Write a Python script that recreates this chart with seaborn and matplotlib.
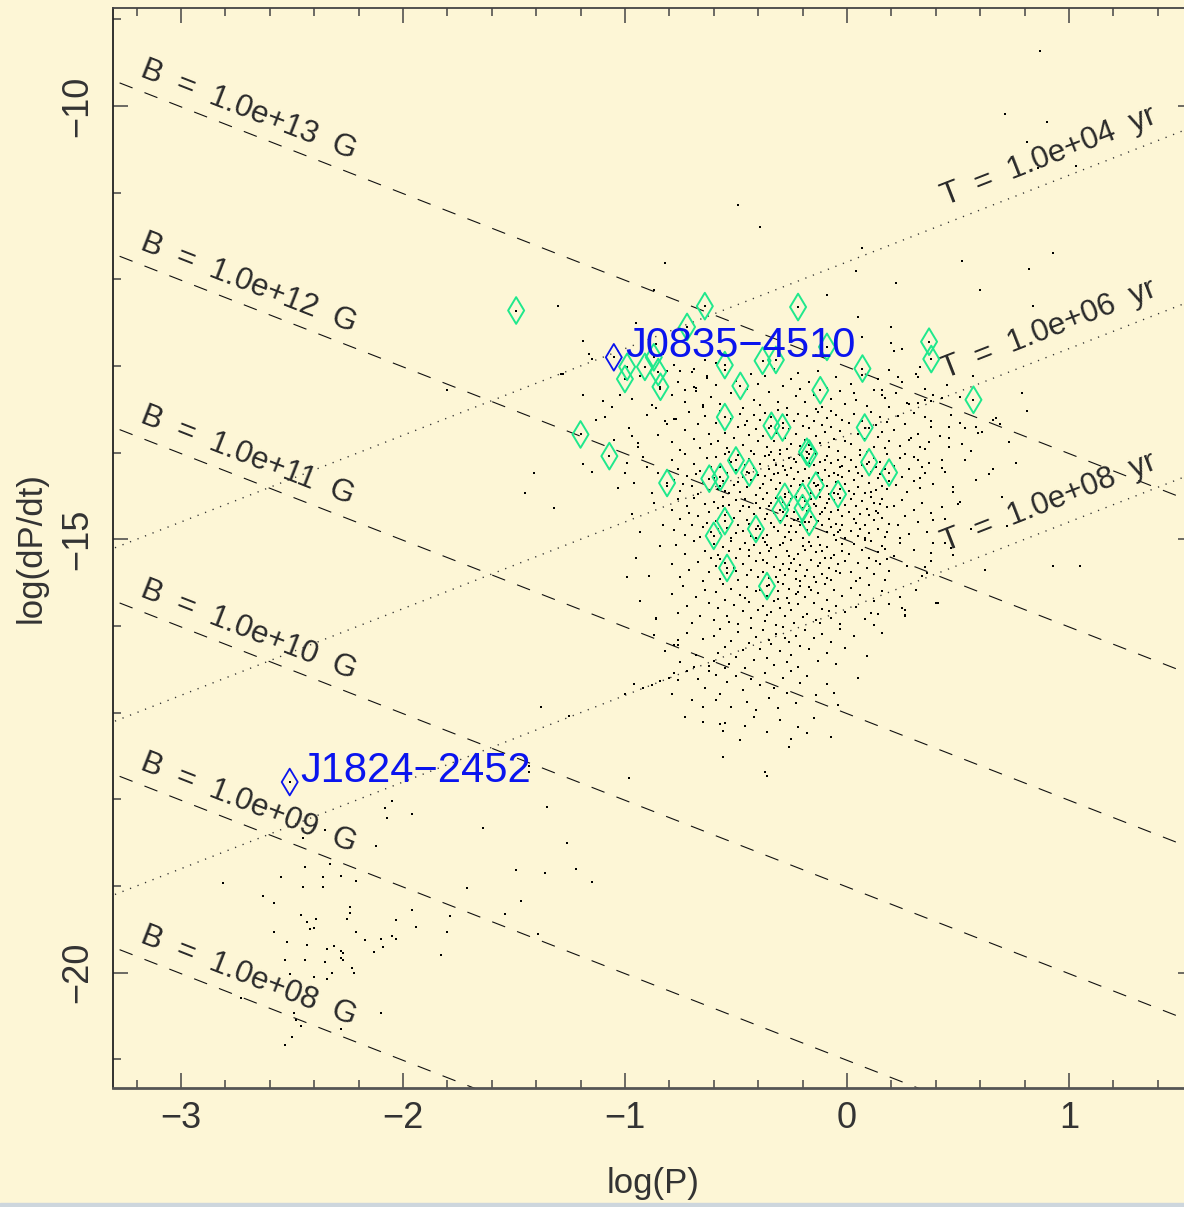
import numpy as np
import pandas as pd
import matplotlib
matplotlib.use("Agg")
import matplotlib.pyplot as plt
from matplotlib.patches import Rectangle
from matplotlib.path import Path
from matplotlib.markers import MarkerStyle
import seaborn as sns

# ---------------- data (log10 P [s], log10 Pdot) ----------------
# millisecond / recycled pulsars (lower left)
msp_pts = [(-2.08,-18.10),(-2.05,-18.02),(-2.07,-18.21),(-1.96,-18.17),(-2.12,-18.54),(-1.64,-18.33),
           (-1.35,-18.09),(-1.26,-18.50),(-1.22,-18.80),(-1.36,-18.85),(-1.49,-18.82),(-1.15,-18.95),
           (-1.47,-19.17),(-1.54,-19.32),(-1.39,-19.55),(-1.71,-19.02),(-1.79,-19.35),(-1.80,-19.53),
           (-1.83,-19.80),(-1.94,-19.47),(-1.96,-19.28),(-2.03,-19.39),(-2.03,-19.61),(-2.05,-19.58),
           (-2.10,-19.61),(-2.09,-19.70),(-2.13,-19.76),(-2.17,-19.62),(-2.21,-19.53),(-2.25,-19.38),
           (-2.24,-19.24),(-2.24,-19.31),(-2.28,-18.88),(-2.21,-18.94),(-2.33,-18.75),(-2.36,-18.90),
           (-2.36,-19.01),(-2.44,-18.78),(-2.45,-19.01),(-2.55,-18.90),(-2.81,-18.97),(-2.63,-19.11),
           (-2.58,-19.19),(-2.46,-19.33),(-2.43,-19.41),(-2.39,-19.38),(-2.40,-19.48),(-2.42,-19.49),
           (-2.58,-19.53),(-2.52,-19.65),(-2.43,-19.68),(-2.34,-19.73),(-2.31,-19.69),(-2.28,-19.75),
           (-2.27,-19.77),(-2.28,-19.83),(-2.27,-19.85),(-2.35,-19.88),(-2.44,-19.85),(-2.53,-19.85),
           (-2.51,-20.02),(-2.40,-20.05),(-2.32,-20.00),(-2.34,-20.07),(-2.23,-19.95),(-2.22,-20.00),
           (-2.49,-20.46),(-2.48,-20.54),(-2.46,-20.62),(-2.50,-20.74),(-2.53,-20.83),(-2.28,-20.65),
           (-2.10,-20.47),(-2.73,-20.29),(-2.35,-18.35),(-2.45,-18.45),(-1.43,-17.69),(-1.43,-17.62),
           (-1.25,-17.04),(-1.38,-16.94),(-0.98,-17.75),(-0.36,-17.73),(-0.37,-17.69)]

# sparse field pulsars around the main island
field_pts = [(0.87,-9.37),(0.71,-10.09),(0.90,-10.18),(0.81,-10.42),(0.86,-10.72),(1.03,-10.69),
             (0.52,-11.79),(0.82,-11.88),(0.93,-11.70),(0.60,-12.12),(-0.49,-11.14),(-0.39,-11.40),
             (-0.82,-11.81),(0.04,-11.91),(0.22,-12.04),(0.07,-11.64),(0.84,-12.31),(0.20,-12.55),
             (0.20,-12.73),(0.25,-12.80),(0.21,-12.83),(0.07,-12.66),(0.33,-13.01),(0.32,-13.13),
             (0.23,-13.13),(0.16,-13.28),(0.16,-13.33),(0.19,-13.47),(0.27,-13.43),(0.32,-13.43),
             (0.35,-13.39),(0.43,-13.37),(0.39,-13.33),(0.51,-13.66),(0.53,-13.71),(0.46,-13.70),
             (0.38,-13.70),(0.35,-13.59),(0.59,-13.77),(0.61,-13.76),(0.67,-13.60),(0.69,-13.67),
             (0.79,-13.31),(0.81,-13.52),(0.56,-13.98),(0.46,-13.83),(0.46,-13.93),(0.43,-14.08),
             (0.44,-14.22),(0.66,-14.19),(0.70,-14.51),(0.51,-14.57),(0.43,-14.63),(0.33,-14.29),
             (0.34,-14.16),(0.30,-14.05),(0.33,-13.94),(0.37,-13.88),(0.29,-13.83),(0.48,-14.45),
             (0.39,-14.78),(0.39,-15.04),(0.38,-15.16),(0.44,-15.04),(0.48,-15.18),(0.62,-15.35),
             (0.93,-15.31),(0.41,-15.73),(0.25,-15.79),(0.26,-15.87),(0.12,-15.99),(0.11,-15.85),
             (0.35,-15.32),(0.36,-15.39),(1.05,-15.31),(0.72,-14.85),
             (-1.19,-12.71),(-1.16,-12.86),(-1.15,-12.92),(-1.29,-13.09),(-1.19,-13.34),(-1.10,-13.40),
             (-1.02,-13.34),(-1.06,-13.47),(-1.09,-13.59),(-0.97,-13.81),(-0.94,-13.89),(-1.00,-14.23),
             (-0.90,-14.16),(-1.19,-14.13),(-0.81,-13.67),(-0.78,-13.61),(-0.73,-13.28),(-0.69,-13.24),
             (-0.68,-13.25),(-0.65,-13.45),(-0.86,-13.49),(-0.63,-13.11),(-0.59,-12.96),(-0.64,-12.93),
             (-0.69,-13.03),(-0.78,-12.99),(-0.75,-13.06),(-0.83,-12.86),(-0.86,-12.75),(-0.95,-12.50),
             (-0.87,-12.12),(-0.09,-12.18),(0.05,-12.43),(0.03,-13.31),(-1.30,-12.31),(-1.80,-13.28),
             (-1.41,-14.23),(-1.45,-14.46),(-1.32,-14.64),(-1.28,-13.09),
             (-0.99,-15.43),(-0.86,-15.91),(-0.87,-16.10),(-0.76,-16.16),(-0.76,-16.22),(-0.82,-16.29),
             (-0.96,-16.67),(-1.00,-16.79),(-0.92,-16.71),(-0.88,-16.68),(-0.84,-16.64),(-0.80,-16.60),
             (-0.78,-16.54),(-0.72,-16.52),(-0.69,-16.47),(-0.62,-16.52),(-0.60,-16.40),(-0.79,-16.79),
             (-0.67,-16.61),(-0.73,-17.05),(-0.65,-16.94),(-0.65,-17.11),(-0.59,-16.85),(-0.57,-17.13),
             (-0.56,-17.21),(-0.56,-17.51),(-0.46,-17.15),(-0.25,-17.30),(-0.22,-17.17),(-0.18,-17.23),
             (-0.06,-16.77),(0.05,-16.60),(0.26,-15.82),(0.26,-15.88),(0.40,-15.73)]

# main island, by logPdot band
core_a = [(-0.97,-13.38),(-0.93,-13.12),(-0.88,-13.45),(-0.84,-13.27),(-0.81,-13.06),(-0.79,-13.33),(-0.76,-13.18),
          (-0.73,-13.41),(-0.70,-13.07),(-0.68,-13.29),(-0.65,-13.47),(-0.63,-13.14),(-0.61,-13.36),(-0.59,-13.22),
          (-0.57,-13.44),(-0.55,-13.05),(-0.52,-13.31),(-0.50,-13.17),(-0.47,-13.48),(-0.45,-13.26),(-0.43,-13.09),
          (-0.42,-13.39),(-0.40,-13.21),(-0.39,-13.45),(-0.37,-13.12),(-0.35,-13.30),(-0.33,-13.04),(-0.31,-13.41),
          (-0.29,-13.23),(-0.27,-13.49),(-0.25,-13.15),(-0.23,-13.35),(-0.22,-13.08),(-0.21,-13.27),(-0.19,-13.42),
          (-0.17,-13.19),(-0.15,-13.33),(-0.13,-13.06),(-0.11,-13.47),(-0.09,-13.25),(-0.07,-13.38),(-0.05,-13.13),
          (-0.03,-13.29),(-0.01,-13.44),(0.02,-13.21),(0.04,-13.39),(0.07,-13.10),(0.09,-13.46),(0.12,-13.28),
          (0.14,-13.15),(0.17,-13.37),(0.19,-13.05),(0.22,-13.31),(0.25,-13.18),(0.28,-13.44),(0.31,-13.09),
          (0.35,-13.27),(0.38,-13.40),(0.45,-13.22),(0.51,-13.36),(0.57,-13.12)]
core_b = [(-1.13,-13.62),(-1.05,-13.85),(-0.98,-13.71),(-0.94,-13.93),(-0.90,-13.56),(-0.85,-13.80),(-0.82,-13.64),
          (-0.79,-13.88),(-0.77,-13.61),(-0.75,-13.97),(-0.73,-13.74),(-0.71,-13.53),(-0.69,-13.84),(-0.67,-13.67),
          (-0.66,-13.95),(-0.64,-13.58),(-0.62,-13.79),(-0.61,-13.90),(-0.59,-13.66),(-0.58,-13.86),(-0.57,-13.52),
          (-0.55,-13.77),(-0.54,-13.95),(-0.52,-13.61),(-0.51,-13.83),(-0.49,-13.70),(-0.48,-13.55),(-0.47,-13.91),
          (-0.45,-13.64),(-0.44,-13.80),(-0.43,-13.98),(-0.42,-13.57),(-0.41,-13.73),(-0.40,-13.87),(-0.46,-13.68),
          (-0.53,-13.99),(-0.39,-13.62),(-0.38,-13.81),(-0.37,-13.54),(-0.36,-13.94),(-0.35,-13.71),(-0.34,-13.59),
          (-0.33,-13.86),(-0.32,-13.77),(-0.31,-13.51),(-0.30,-13.97),(-0.29,-13.66),(-0.28,-13.83),(-0.27,-13.57),
          (-0.26,-13.73),(-0.25,-13.90),(-0.24,-13.63),(-0.23,-13.79),(-0.22,-13.55),(-0.21,-13.92),(-0.20,-13.69),
          (-0.34,-13.99),(-0.27,-13.96),(-0.19,-13.85),(-0.18,-13.58),(-0.17,-13.72),(-0.16,-13.96),(-0.15,-13.64),
          (-0.14,-13.81),(-0.13,-13.53),(-0.12,-13.89),(-0.11,-13.68),(-0.10,-13.76),(-0.09,-13.60),(-0.08,-13.93),
          (-0.07,-13.70),(-0.06,-13.84),(-0.05,-13.56),(-0.04,-13.98),(-0.03,-13.75),(-0.02,-13.62),(-0.01,-13.87),
          (-0.14,-13.50),(-0.07,-13.52),(-0.17,-13.91),(0.01,-13.66),(0.02,-13.90),(0.03,-13.55),(0.05,-13.78),
          (0.06,-13.97),(0.07,-13.63),(0.08,-13.84),(0.10,-13.71),(0.11,-13.53),(0.12,-13.93),(0.13,-13.68),
          (0.14,-13.82),(0.15,-13.59),(0.16,-13.76),(0.17,-13.95),(0.18,-13.65),(0.19,-13.86),(0.09,-13.99),
          (0.21,-13.74),(0.23,-13.58),(0.24,-13.92),(0.26,-13.67),(0.28,-13.85),(0.30,-13.54),(0.32,-13.78),
          (0.35,-13.96),(0.38,-13.63),(0.42,-13.81),(0.47,-13.57),(0.52,-13.90),(0.58,-13.70),(0.66,-13.62),
          (0.73,-13.88)]
core_c = [(-1.15,-14.22),(-1.03,-14.41),(-0.99,-14.12),(-0.96,-14.35),(-0.92,-14.05),(-0.88,-14.46),(-0.85,-14.24),
          (-0.81,-14.38),(-0.79,-14.08),(-0.78,-14.31),(-0.76,-14.19),(-0.75,-14.44),(-0.73,-14.02),(-0.72,-14.27),
          (-0.70,-14.39),(-0.69,-14.13),(-0.67,-14.48),(-0.66,-14.21),(-0.65,-14.34),(-0.63,-14.06),(-0.62,-14.43),
          (-0.61,-14.17),(-0.74,-14.36),(-0.68,-14.25),(-0.60,-14.29),(-0.59,-14.05),(-0.58,-14.42),(-0.57,-14.16),
          (-0.56,-14.33),(-0.55,-14.01),(-0.54,-14.24),(-0.53,-14.47),(-0.52,-14.11),(-0.51,-14.37),(-0.50,-14.20),
          (-0.49,-14.03),(-0.48,-14.45),(-0.47,-14.28),(-0.46,-14.14),(-0.45,-14.40),(-0.44,-14.07),(-0.43,-14.32),
          (-0.42,-14.18),(-0.41,-14.49),(-0.40,-14.26),(-0.57,-14.38),(-0.53,-14.08),(-0.49,-14.34),(-0.45,-14.22),
          (-0.55,-14.44),(-0.42,-14.02),(-0.39,-14.13),(-0.38,-14.36),(-0.37,-14.04),(-0.37,-14.27),(-0.36,-14.46),
          (-0.35,-14.19),(-0.34,-14.31),(-0.33,-14.09),(-0.32,-14.42),(-0.31,-14.23),(-0.30,-14.01),(-0.30,-14.35),
          (-0.29,-14.15),(-0.28,-14.48),(-0.27,-14.26),(-0.26,-14.06),(-0.25,-14.39),(-0.25,-14.18),(-0.24,-14.30),
          (-0.23,-14.11),(-0.22,-14.44),(-0.22,-14.22),(-0.21,-14.03),(-0.20,-14.33),(-0.39,-14.41),(-0.35,-14.03),
          (-0.33,-14.25),(-0.28,-14.20),(-0.26,-14.45),(-0.24,-14.07),(-0.21,-14.37),(-0.32,-14.14),(-0.19,-14.19),
          (-0.19,-14.41),(-0.18,-14.06),(-0.17,-14.29),(-0.16,-14.47),(-0.15,-14.14),(-0.15,-14.35),(-0.14,-14.02),
          (-0.13,-14.24),(-0.12,-14.43),(-0.12,-14.11),(-0.11,-14.31),(-0.10,-14.20),(-0.09,-14.04),(-0.09,-14.39),
          (-0.08,-14.27),(-0.07,-14.12),(-0.06,-14.46),(-0.06,-14.23),(-0.05,-14.34),(-0.04,-14.08),(-0.03,-14.17),
          (-0.03,-14.42),(-0.02,-14.28),(-0.01,-14.05),(-0.01,-14.36),(-0.17,-14.12),(-0.13,-14.37),(-0.08,-14.48),
          (-0.04,-14.26),(-0.10,-14.09),(-0.02,-14.15),(0.01,-14.21),(0.01,-14.44),(0.02,-14.09),(0.03,-14.32),
          (0.04,-14.16),(0.05,-14.40),(0.06,-14.03),(0.07,-14.27),(0.08,-14.47),(0.09,-14.13),(0.10,-14.35),
          (0.11,-14.22),(0.12,-14.06),(0.13,-14.43),(0.14,-14.29),(0.15,-14.11),(0.16,-14.38),(0.17,-14.19),
          (0.18,-14.02),(0.19,-14.33),(0.03,-14.48),(0.07,-14.14),(0.11,-14.45),(0.15,-14.25),(0.18,-14.42),
          (0.05,-14.24),(0.13,-14.17),(0.21,-14.15),(0.22,-14.37),(0.24,-14.06),(0.25,-14.28),(0.27,-14.45),
          (0.28,-14.19),(0.30,-14.33),(0.32,-14.08),(0.33,-14.41),(0.35,-14.24),(0.37,-14.12),(0.39,-14.36),
          (0.26,-14.02),(0.43,-14.18),(0.48,-14.40),(0.53,-14.09),(0.58,-14.31),(0.64,-14.25),(0.76,-14.12)]
core_d = [(-0.97,-14.71),(-0.93,-14.92),(-0.87,-14.58),(-0.83,-14.83),(-0.79,-14.66),(-0.78,-14.89),(-0.76,-14.54),
          (-0.75,-14.77),(-0.73,-14.95),(-0.72,-14.62),(-0.70,-14.84),(-0.69,-14.52),(-0.67,-14.73),(-0.66,-14.97),
          (-0.64,-14.59),(-0.63,-14.81),(-0.62,-14.68),(-0.61,-14.91),(-0.71,-14.70),(-0.65,-14.86),(-0.60,-14.57),
          (-0.59,-14.79),(-0.58,-14.64),(-0.57,-14.93),(-0.56,-14.51),(-0.55,-14.72),(-0.54,-14.87),(-0.53,-14.60),
          (-0.52,-14.98),(-0.51,-14.75),(-0.50,-14.55),(-0.49,-14.83),(-0.48,-14.67),(-0.47,-14.90),(-0.46,-14.53),
          (-0.45,-14.78),(-0.44,-14.63),(-0.43,-14.96),(-0.42,-14.71),(-0.41,-14.58),(-0.40,-14.85),(-0.58,-14.88),
          (-0.54,-14.69),(-0.50,-14.93),(-0.47,-14.61),(-0.44,-14.82),(-0.41,-14.99),(-0.56,-14.62),(-0.39,-14.64),
          (-0.39,-14.88),(-0.38,-14.53),(-0.37,-14.76),(-0.36,-14.95),(-0.35,-14.61),(-0.34,-14.81),(-0.33,-14.70),
          (-0.32,-14.52),(-0.31,-14.90),(-0.30,-14.66),(-0.30,-14.79),(-0.29,-14.57),(-0.28,-14.97),(-0.27,-14.73),
          (-0.26,-14.60),(-0.25,-14.85),(-0.25,-14.54),(-0.24,-14.69),(-0.23,-14.92),(-0.22,-14.77),(-0.22,-14.58),
          (-0.21,-14.83),(-0.20,-14.65),(-0.20,-14.99),(-0.36,-14.71),(-0.33,-14.86),(-0.31,-14.55),(-0.28,-14.83),
          (-0.26,-14.91),(-0.23,-14.51),(-0.38,-14.98),(-0.34,-14.58),(-0.29,-14.69),(-0.24,-14.78),(-0.19,-14.56),
          (-0.19,-14.80),(-0.18,-14.67),(-0.17,-14.94),(-0.16,-14.53),(-0.16,-14.74),(-0.15,-14.86),(-0.14,-14.62),
          (-0.13,-14.97),(-0.12,-14.71),(-0.12,-14.51),(-0.11,-14.84),(-0.10,-14.64),(-0.09,-14.91),(-0.09,-14.58),
          (-0.08,-14.77),(-0.07,-14.68),(-0.06,-14.95),(-0.06,-14.55),(-0.05,-14.82),(-0.04,-14.66),(-0.03,-14.89),
          (-0.03,-14.52),(-0.02,-14.73),(-0.01,-14.60),(-0.01,-14.98),(-0.18,-14.89),(-0.15,-14.59),(-0.11,-14.69),
          (-0.08,-14.53),(-0.04,-14.92),(-0.13,-14.79),(-0.07,-14.86),(-0.02,-14.83),(-0.17,-14.61),(0.01,-14.69),
          (0.02,-14.54),(0.02,-14.90),(0.03,-14.77),(0.04,-14.62),(0.05,-14.96),(0.06,-14.71),(0.07,-14.56),
          (0.08,-14.84),(0.09,-14.65),(0.10,-14.93),(0.11,-14.51),(0.12,-14.78),(0.13,-14.67),(0.14,-14.88),
          (0.15,-14.59),(0.16,-14.75),(0.17,-14.97),(0.18,-14.63),(0.19,-14.82),(0.04,-14.81),(0.08,-14.99),
          (0.12,-14.58),(0.16,-14.53),(0.06,-14.88),(0.10,-14.72),(0.14,-14.70),(0.18,-14.91),(0.21,-14.61),
          (0.23,-14.84),(0.25,-14.55),(0.26,-14.73),(0.28,-14.94),(0.30,-14.66),(0.32,-14.80),(0.34,-14.58),
          (0.36,-14.91),(0.38,-14.70),(0.24,-14.98),(0.44,-14.76),(0.50,-14.59),(0.56,-14.88)]
core_e = [(-0.95,-15.21),(-0.89,-15.42),(-0.84,-15.08),(-0.79,-15.29),(-0.77,-15.06),(-0.75,-15.44),(-0.73,-15.17),
          (-0.71,-15.35),(-0.69,-15.02),(-0.67,-15.26),(-0.65,-15.48),(-0.64,-15.13),(-0.62,-15.38),(-0.61,-15.21),
          (-0.60,-15.05),(-0.59,-15.31),(-0.58,-15.18),(-0.57,-15.46),(-0.56,-15.09),(-0.55,-15.27),(-0.54,-15.39),
          (-0.53,-15.14),(-0.52,-15.02),(-0.51,-15.33),(-0.50,-15.22),(-0.49,-15.47),(-0.48,-15.11),(-0.47,-15.29),
          (-0.46,-15.04),(-0.45,-15.41),(-0.44,-15.19),(-0.43,-15.35),(-0.42,-15.07),(-0.41,-15.25),(-0.40,-15.44),
          (-0.57,-15.23),(-0.50,-15.37),(-0.44,-15.12),(-0.39,-15.16),(-0.38,-15.38),(-0.37,-15.03),(-0.36,-15.27),
          (-0.35,-15.45),(-0.34,-15.10),(-0.33,-15.32),(-0.32,-15.20),(-0.31,-15.49),(-0.30,-15.06),(-0.29,-15.28),
          (-0.28,-15.41),(-0.27,-15.13),(-0.26,-15.34),(-0.25,-15.01),(-0.24,-15.23),(-0.23,-15.46),(-0.22,-15.17),
          (-0.21,-15.30),(-0.20,-15.08),(-0.38,-15.24),(-0.35,-15.13),(-0.32,-15.43),(-0.29,-15.04),(-0.26,-15.19),
          (-0.23,-15.36),(-0.21,-15.48),(-0.36,-15.07),(-0.30,-15.35),(-0.25,-15.27),(-0.19,-15.12),(-0.18,-15.35),
          (-0.17,-15.03),(-0.16,-15.24),(-0.15,-15.44),(-0.14,-15.15),(-0.13,-15.31),(-0.12,-15.06),(-0.11,-15.40),
          (-0.10,-15.21),(-0.09,-15.09),(-0.08,-15.33),(-0.07,-15.47),(-0.06,-15.18),(-0.05,-15.01),(-0.04,-15.28),
          (-0.03,-15.39),(-0.02,-15.13),(-0.01,-15.25),(-0.19,-15.42),(-0.16,-15.08),(-0.12,-15.27),(-0.09,-15.45),
          (-0.05,-15.36),(-0.02,-15.05),(-0.14,-15.49),(-0.07,-15.22),(-0.11,-15.14),(0.01,-15.17),(0.02,-15.38),
          (0.03,-15.05),(0.05,-15.27),(0.06,-15.45),(0.07,-15.12),(0.09,-15.33),(0.10,-15.21),(0.11,-15.02),
          (0.12,-15.40),(0.14,-15.15),(0.15,-15.29),(0.16,-15.08),(0.17,-15.47),(0.18,-15.23),(0.19,-15.36),
          (0.04,-15.48),(0.08,-15.01),(0.13,-15.25),(0.17,-15.11),(0.21,-15.19),(0.24,-15.04),(0.27,-15.31),
          (0.30,-15.12),(0.34,-15.42),(0.38,-15.25),(0.47,-15.10)]
core_f = [(-0.93,-15.71),(-0.86,-15.92),(-0.79,-15.63),(-0.76,-15.85),(-0.74,-15.54),(-0.72,-15.77),(-0.70,-15.96),
          (-0.68,-15.66),(-0.66,-15.88),(-0.64,-15.58),(-0.62,-15.74),(-0.60,-15.93),(-0.59,-15.61),(-0.58,-15.79),
          (-0.56,-15.52),(-0.55,-15.70),(-0.54,-15.89),(-0.52,-15.57),(-0.51,-15.76),(-0.49,-15.98),(-0.48,-15.64),
          (-0.47,-15.83),(-0.45,-15.55),(-0.44,-15.72),(-0.43,-15.91),(-0.41,-15.60),(-0.40,-15.81),(-0.53,-15.95),
          (-0.46,-15.68),(-0.39,-15.58),(-0.38,-15.77),(-0.37,-15.94),(-0.36,-15.65),(-0.35,-15.53),(-0.34,-15.84),
          (-0.33,-15.71),(-0.32,-15.99),(-0.31,-15.60),(-0.30,-15.79),(-0.29,-15.51),(-0.28,-15.88),(-0.27,-15.68),
          (-0.26,-15.57),(-0.25,-15.82),(-0.24,-15.96),(-0.23,-15.63),(-0.22,-15.75),(-0.21,-15.54),(-0.20,-15.90),
          (-0.36,-15.87),(-0.31,-15.69),(-0.26,-15.74),(-0.22,-15.61),(-0.19,-15.67),(-0.18,-15.86),(-0.17,-15.55),
          (-0.15,-15.74),(-0.14,-15.93),(-0.13,-15.62),(-0.11,-15.80),(-0.10,-15.52),(-0.09,-15.70),(-0.07,-15.91),
          (-0.06,-15.59),(-0.05,-15.77),(-0.03,-15.98),(-0.02,-15.65),(-0.01,-15.84),(-0.16,-15.58),(-0.08,-15.83),
          (-0.12,-15.97),(0.02,-15.56),(0.04,-15.78),(0.06,-15.64),(0.08,-15.92),(0.10,-15.53),(0.12,-15.71),
          (0.14,-15.86),(0.16,-15.60),(0.19,-15.75),(0.24,-15.66),(0.31,-15.58)]
core_g = [(-0.78,-16.22),(-0.75,-16.41),(-0.72,-16.08),(-0.68,-16.33),(-0.65,-16.15),(-0.62,-16.46),(-0.60,-16.12),
          (-0.58,-16.31),(-0.57,-16.04),(-0.55,-16.24),(-0.53,-16.44),(-0.52,-16.17),(-0.50,-16.36),(-0.49,-16.07),
          (-0.47,-16.28),(-0.46,-16.49),(-0.44,-16.20),(-0.43,-16.02),(-0.42,-16.39),(-0.41,-16.13),(-0.55,-16.48),
          (-0.39,-16.26),(-0.38,-16.05),(-0.36,-16.37),(-0.35,-16.16),(-0.33,-16.45),(-0.32,-16.09),(-0.30,-16.29),
          (-0.29,-16.01),(-0.27,-16.41),(-0.26,-16.19),(-0.25,-16.33),(-0.23,-16.11),(-0.22,-16.47),(-0.21,-16.23),
          (-0.34,-16.21),(-0.28,-16.14),(-0.19,-16.05),(-0.17,-16.27),(-0.15,-16.14),(-0.13,-16.40),(-0.11,-16.09),
          (-0.09,-16.31),(-0.07,-16.19),(-0.05,-16.44),(-0.03,-16.03),(-0.01,-16.25),(0.03,-16.12),(0.09,-16.35),
          (0.16,-16.08),
          (-0.76,-16.62),(-0.70,-16.85),(-0.64,-16.71),(-0.59,-16.56),(-0.57,-16.79),(-0.54,-16.65),(-0.52,-16.93),
          (-0.50,-16.58),(-0.47,-16.74),(-0.45,-16.88),(-0.43,-16.61),(-0.41,-16.97),(-0.39,-16.68),(-0.37,-16.54),
          (-0.35,-16.83),(-0.33,-16.71),(-0.31,-16.95),(-0.29,-16.60),(-0.27,-16.77),(-0.25,-16.52),(-0.23,-16.89),
          (-0.21,-16.66),(-0.18,-16.58),(-0.14,-16.80),(-0.09,-16.67),(-0.04,-16.91),
          (-0.55,-17.12),(-0.48,-17.31),(-0.42,-17.05),(-0.36,-17.22),(-0.30,-17.08),(-0.26,-17.40),(-0.22,-17.17),
          (-0.15,-17.06),(-0.07,-17.28)]

# young pulsars highlighted with green diamonds
young_logp = [-1.49,-0.64,-0.22,-0.72,-0.99,-1.00,-0.91,-0.87,-0.85,-0.84,-0.55,-0.48,-0.38,-0.32,-0.09,0.07,
              -0.12,-0.55,-1.20,-1.07,-0.34,-0.29,0.08,-0.18,-0.17,0.10,0.19,-0.50,-0.44,-0.81,-0.62,-0.57,
              -0.28,-0.30,-0.14,-0.04,-0.20,-0.20,-0.17,-0.55,-0.60,-0.41,-0.54,-0.36,0.37,0.38,0.57]
young_logpdot = [-12.36,-12.31,-12.32,-12.55,-13.01,-13.15,-13.01,-12.90,-13.07,-13.24,-12.99,-13.23,-12.94,
                 -12.93,-12.78,-13.03,-13.28,-13.59,-13.79,-14.04,-13.69,-13.71,-13.71,-13.99,-14.01,-14.11,
                 -14.23,-14.09,-14.23,-14.35,-14.30,-14.28,-14.51,-14.66,-14.38,-14.48,-14.51,-14.64,-14.80,
                 -14.79,-14.96,-14.88,-15.33,-15.54,-12.72,-12.92,-13.39]

# named pulsars (blue)
named_psr = ["J0835\u22124510", "J1824\u22122452"]
named_logp = [-1.05, -2.51]
named_logpdot = [-12.90, -17.80]

# reference lines
b_fields = [1e13, 1e12, 1e11, 1e10, 1e9, 1e8]
ages_yr = [1e4, 1e6, 1e8]

x_major = [-3, -2, -1, 0, 1]
y_major = [-20, -15, -10]

# ---------------- figure ----------------
sns.set_theme(style="ticks")
plt.rcParams['font.family'] = ['Liberation Sans', 'DejaVu Sans']
plt.rcParams['axes.unicode_minus'] = True

BG = '#fdf6d6'
GREEN = '#1fe88c'
BLUE = '#0a14ee'
INK = '#2a2a2a'
W, H = 1184, 1207
fig = plt.figure(figsize=(W / 100, H / 100), dpi=100, facecolor=BG)
ax = fig.add_axes([113 / W, (H - 1088) / H, (1193 - 113) / W, (1088 - 8) / H])
ax.set_facecolor(BG)
ax.set_xlim(-3.306, 1.559)
ax.set_ylim(-21.33, -8.87)

xs = np.array([-3.5, 1.7])
for b in b_fields:
    yb = 2 * np.log10(b) - 2 * np.log10(3.2e19) - xs
    ax.plot(xs, yb, color='#111111', lw=0.8, ls=(0, (12.5, 11.5)), zorder=2)
for t in ages_yr:
    yt = xs - np.log10(2 * t * 3.156e7)
    ax.plot(xs, yt, color='#333333', lw=1.0, ls=(0, (0.9, 4.9)), zorder=2)

# angles of the guide lines on screen
p0 = ax.transData.transform((0, 0))
pb = ax.transData.transform((1, -1))
pt = ax.transData.transform((1, 1))
ang_b = np.degrees(np.arctan2(pb[1] - p0[1], pb[0] - p0[0]))
ang_t = np.degrees(np.arctan2(pt[1] - p0[1], pt[0] - p0[0]))

for b in b_fields:
    x0 = -3.19
    y0 = 2 * np.log10(b) - 2 * np.log10(3.2e19) - x0 + 0.17
    ax.text(x0, y0, "B  =  %.1e  G" % b, rotation=ang_b, rotation_mode='anchor',
            ha='left', va='baseline', fontsize=22.5, color=INK, zorder=3)
for t in ages_yr:
    x0 = 0.445
    y0 = x0 - np.log10(2 * t * 3.156e7) + 0.21
    ax.text(x0, y0, "T  =  %.1e  yr" % t, rotation=ang_t, rotation_mode='anchor',
            ha='left', va='baseline', fontsize=22.5, color=INK, zorder=3)

all_pts = msp_pts + field_pts + core_a + core_b + core_c + core_d + core_e + core_f + core_g
df = pd.DataFrame(all_pts, columns=['logP', 'logPdot'])
df_young = pd.DataFrame({'logP': young_logp, 'logPdot': young_logpdot})
df_named = pd.DataFrame({'name': named_psr, 'logP': named_logp, 'logPdot': named_logpdot})

for d in (df, df_young, df_named):
    sns.scatterplot(data=d, x='logP', y='logPdot', ax=ax, marker='s', s=4.2,
                    color='black', linewidth=0, legend=False, zorder=3)

diamond = MarkerStyle(Path([(0, 1), (0.6, 0), (0, -1), (-0.6, 0), (0, 1)],
                           [Path.MOVETO, Path.LINETO, Path.LINETO, Path.LINETO, Path.CLOSEPOLY]))
sns.scatterplot(data=df_young, x='logP', y='logPdot', ax=ax, marker=diamond, s=370,
                facecolors='none', edgecolor=GREEN, linewidth=1.4, legend=False, zorder=4)
sns.scatterplot(data=df_named, x='logP', y='logPdot', ax=ax, marker=diamond, s=370,
                facecolors='none', edgecolor=BLUE, linewidth=1.3, legend=False, zorder=5)
for _, r in df_named.iterrows():
    ax.annotate(r['name'], xy=(r['logP'], r['logPdot']), xytext=(8, 0), textcoords='offset points',
                ha='left', va='baseline', fontsize=30, color=BLUE, zorder=6)

# axes styling
ax.set_xticks(x_major)
ax.set_xticks(np.round(np.arange(-3.2, 1.61, 0.2), 2), minor=True)
ax.set_yticks(y_major)
ax.set_yticks(np.arange(-21, -8, 1), minor=True)
ax.set_xlim(-3.306, 1.559)
ax.set_ylim(-21.33, -8.87)
ax.tick_params(which='both', direction='in', top=True, right=True, color='#444444', width=1.1)
ax.tick_params(which='major', length=11)
ax.tick_params(which='minor', length=5.8)
ax.tick_params(axis='x', labelsize=26, pad=9, labelcolor='#333333')
ax.tick_params(axis='y', labelsize=26, pad=13, labelcolor='#333333', labelrotation=90)
for lbl in ax.get_yticklabels():
    lbl.set_va('center')
ax.set_xlabel('log(P)', fontsize=25, color='#333333', labelpad=23)
ax.set_ylabel('log(dP/dt)', fontsize=25, color='#333333', labelpad=9)
for side, lw, c in [('bottom', 2.0, '#555555'), ('left', 1.3, '#222222'),
                    ('top', 1.3, '#444444'), ('right', 1.3, '#444444')]:
    ax.spines[side].set_linewidth(lw)
    ax.spines[side].set_color(c)

fig.patches.append(Rectangle((0, 0), 1, 4 / H, transform=fig.transFigure,
                             color='#cdd6dd', zorder=10))

fig.savefig('out.png', dpi=100, facecolor=BG)
